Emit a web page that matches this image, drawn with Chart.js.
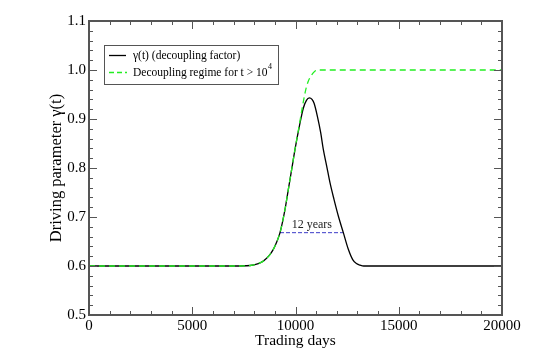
<!DOCTYPE html>
<html>
<head>
<meta charset="utf-8">
<script src="https://cdn.jsdelivr.net/npm/chart.js@4.4.1/dist/chart.umd.min.js"></script>
<style>
  html, body { margin: 0; padding: 0; background: #fff; }
  #wrap { width: 555px; height: 354px; position: relative; }
</style>
</head>
<body>
<div id="wrap"><canvas id="c" width="555" height="354"></canvas></div>
<script>
// ---- Data ----
const gammaDays   = [0, 7000, 7800, 8200, 8440, 8700, 8926, 9100, 9250, 9490, 9652, 9815, 9976, 10186, 10378, 10530, 10670, 10800, 10900, 11057, 11220, 11347, 11510, 11670, 11864, 12074, 12316, 12558, 12770, 12950, 13123, 13300, 20000];
const gammaValues = [0.6, 0.6, 0.601, 0.605, 0.610, 0.620, 0.634, 0.650, 0.668, 0.715, 0.756, 0.797, 0.838, 0.885, 0.922, 0.938, 0.943, 0.940, 0.932, 0.906, 0.872, 0.838, 0.804, 0.770, 0.736, 0.702, 0.668, 0.634, 0.613, 0.605, 0.602, 0.600, 0.6];

const regimeDays   = [0, 7000, 7800, 8200, 8440, 8700, 8926, 9100, 9250, 9490, 9652, 9815, 9976, 10186, 10295, 10460, 10600, 10783, 10950, 11100, 20000];
const regimeValues = [0.6, 0.6, 0.601, 0.605, 0.610, 0.620, 0.634, 0.650, 0.668, 0.715, 0.756, 0.797, 0.838, 0.888, 0.915, 0.953, 0.975, 0.990, 0.998, 1.0, 1.0];

const spanDays   = [9250, 12330];
const spanValues = [0.668, 0.668];
const spanLabel  = "12 years";

const xTicks = [0, 5000, 10000, 15000, 20000];
const yTicks = [0.5, 0.6, 0.7, 0.8, 0.9, 1.0, 1.1];

const legendLabels = ["γ(t) (decoupling factor)", "Decoupling regime for t > 10", "4"];
const xTitle = "Trading days";
const yTitle = "Driving parameter γ(t)";

// ---- build ----
const toPts = (xs, ys) => xs.map((x, i) => ({x: x, y: ys[i]}));
const GREEN = '#22ee22';
const FRAME = '#555555';
const SERIF = '"Liberation Serif", "DejaVu Serif", serif';

const framePlugin = {
  id: 'frame',
  afterDatasetsDraw(chart) {
    const {ctx, chartArea: a, scales: {x, y}} = chart;
    ctx.save();
    ctx.strokeStyle = FRAME;
    ctx.lineWidth = 1;
    for (let v = 0; v <= 20000; v += 1000) {
      const px = Math.round(x.getPixelForValue(v)) + 0.5;
      const len = (v % 5000 === 0) ? 8 : 4;
      ctx.beginPath();
      ctx.moveTo(px, a.bottom); ctx.lineTo(px, a.bottom - len);
      ctx.moveTo(px, a.top); ctx.lineTo(px, a.top + len);
      ctx.stroke();
    }
    for (let k = 0; k <= 30; k++) {
      const v = 0.5 + k * 0.02;
      const py = Math.round(y.getPixelForValue(v)) + 0.5;
      const len = (k % 5 === 0) ? 8 : 4;
      ctx.beginPath();
      ctx.moveTo(a.left, py); ctx.lineTo(a.left + len, py);
      ctx.moveTo(a.right, py); ctx.lineTo(a.right - len, py);
      ctx.stroke();
    }
    ctx.lineWidth = 2;
    ctx.strokeRect(a.left, a.top, a.right - a.left, a.bottom - a.top);

    // span label
    const mx = x.getPixelForValue((spanDays[0] + spanDays[1]) / 2);
    const my = y.getPixelForValue(spanValues[0]);
    ctx.fillStyle = '#222';
    ctx.font = '12px ' + SERIF;
    ctx.textAlign = 'center';
    ctx.textBaseline = 'alphabetic';
    ctx.fillText(spanLabel, mx, my - 5);

    // legend
    const lx = 104, ly = 45, lw = 174, lh = 39;
    ctx.fillStyle = '#fff';
    ctx.fillRect(lx, ly, lw, lh);
    ctx.lineWidth = 1;
    ctx.strokeStyle = FRAME;
    ctx.strokeRect(lx + 0.5, ly + 0.5, lw, lh);
    ctx.lineWidth = 1.3;
    ctx.strokeStyle = '#000';
    ctx.setLineDash([]);
    ctx.beginPath(); ctx.moveTo(109, 55.5); ctx.lineTo(126, 55.5); ctx.stroke();
    ctx.strokeStyle = GREEN;
    ctx.setLineDash([5, 3]);
    ctx.beginPath(); ctx.moveTo(109, 72.5); ctx.lineTo(127, 72.5); ctx.stroke();
    ctx.setLineDash([]);
    ctx.fillStyle = '#000';
    ctx.textAlign = 'left';
    ctx.textBaseline = 'middle';
    ctx.font = '11.5px ' + SERIF;
    ctx.fillText(legendLabels[0], 133, 56);
    ctx.fillText(legendLabels[1], 133, 73);
    const w = ctx.measureText(legendLabels[1]).width;
    ctx.font = '8px ' + SERIF;
    ctx.fillText(legendLabels[2], 133 + w + 0.5, 67);
    ctx.restore();
  }
};

new Chart(document.getElementById('c'), {
  type: 'line',
  data: {
    datasets: [
      { label: 'regime', data: toPts(regimeDays, regimeValues), borderColor: GREEN, borderWidth: 1.3,
        borderDash: [6, 4], pointRadius: 0, cubicInterpolationMode: 'monotone', order: 0, fill: false },
      { label: 'gamma', data: toPts(gammaDays, gammaValues), borderColor: '#000', borderWidth: 1.3,
        pointRadius: 0, cubicInterpolationMode: 'monotone', order: 1, fill: false },
      { label: 'span', data: toPts(spanDays, spanValues), borderColor: '#3a3ac8', borderWidth: 1,
        borderDash: [4, 2], pointRadius: 0, order: 2, fill: false }
    ]
  },
  options: {
    responsive: false,
    animation: false,
    events: [],
    layout: { padding: { left: 0, right: 53, top: 21, bottom: 0 } },
    plugins: { legend: { display: false }, tooltip: { enabled: false } },
    scales: {
      x: {
        type: 'linear', min: 0, max: 20000,
        afterBuildTicks: s => { s.ticks = xTicks.map(v => ({value: v})); },
        afterFit: s => { s.height = 39; },
        grid: { display: false, drawTicks: false },
        border: { display: false },
        ticks: { color: '#000', padding: 2, maxRotation: 0, font: { family: SERIF, size: 15 },
                 callback: v => String(v) },
        title: { display: true, text: xTitle, color: '#000', font: { family: SERIF, size: 15.5 },
                 padding: { top: 4, bottom: 4 } }
      },
      y: {
        type: 'linear', min: 0.5, max: 1.1,
        afterBuildTicks: s => { s.ticks = yTicks.map(v => ({value: v})); },
        afterFit: s => { s.width = 89; },
        grid: { display: false, drawTicks: false },
        border: { display: false },
        ticks: { color: '#000', padding: 3, font: { family: SERIF, size: 15 },
                 callback: v => Number(v).toFixed(1) },
        title: { display: true, text: yTitle, color: '#000', font: { family: SERIF, size: 16.5 },
                 padding: { top: 47, bottom: 0 } }
      }
    }
  },
  plugins: [framePlugin]
});
</script>
</body>
</html>
